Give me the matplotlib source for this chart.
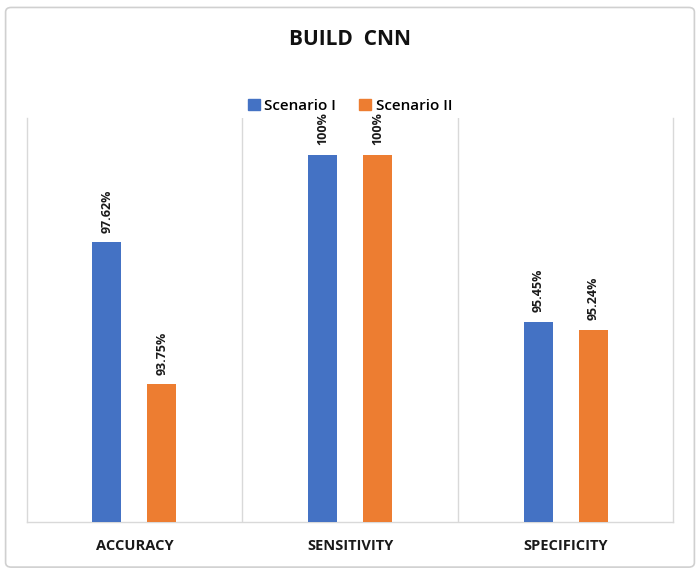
import matplotlib.pyplot as plt
from matplotlib.patches import FancyBboxPatch, Patch
import numpy as np

plt.rcParams['font.family'] = ['Open Sans', 'DejaVu Sans']

# Data
categories = ['ACCURACY', 'SENSITIVITY', 'SPECIFICITY']
scenario_1 = [97.62, 100, 95.45]
scenario_2 = [93.75, 100, 95.24]
labels_1 = ['97.62%', '100%', '95.45%']
labels_2 = ['93.75%', '100%', '95.24%']

blue = '#4472C4'
orange = '#ED7D31'
grid_col = '#D9D9D9'

fig = plt.figure(figsize=(7, 5.74), dpi=100)

# outer chart frame
frame = FancyBboxPatch((0.008, 0.012), 0.984, 0.975, boxstyle='round,pad=0,rounding_size=0.008',
                       transform=fig.transFigure, facecolor='white', edgecolor='#D0D0D0',
                       linewidth=1.2, zorder=-5)
fig.patches.append(frame)

ax = fig.add_axes([0.038, 0.0906, 0.924, 0.703])
ax.set_facecolor('none')
ax.set_zorder(2)

x = np.arange(len(categories))
w = 0.135
off = 0.1275
b1 = ax.bar(x - off, scenario_1, w, color=blue, label='Scenario I', zorder=3)
b2 = ax.bar(x + off, scenario_2, w, color=orange, label='Scenario II', zorder=3)

for bars, labs in [(b1, labels_1), (b2, labels_2)]:
    for bar, lab in zip(bars, labs):
        ax.annotate(lab, (bar.get_x() + bar.get_width() / 2, bar.get_height()),
                    xytext=(0, 7), textcoords='offset points', rotation=90,
                    ha='center', va='bottom', fontsize=9, fontweight='bold', color='#1a1a1a')

ax.set_ylim(90, 101)
ax.set_xlim(-0.5, 2.5)
ax.set_yticks([])
ax.set_xticks(x)
ax.set_xticklabels(categories, fontsize=10.5, fontweight='bold', color='#1a1a1a')
ax.tick_params(axis='x', length=0, pad=12)

for b in [0.5, 1.5]:
    ax.axvline(b, color=grid_col, linewidth=1, zorder=1)
for s in ['left', 'right', 'bottom']:
    ax.spines[s].set_color(grid_col)
    ax.spines[s].set_linewidth(1)
ax.spines['top'].set_visible(False)

fig.text(0.5, 0.932, 'BUILD  CNN', ha='center', va='center', fontsize=15,
         fontweight='bold', color='#111111')

handles = [Patch(color=blue, label='Scenario I'), Patch(color=orange, label='Scenario II')]
fig.legend(handles=handles, loc='center', bbox_to_anchor=(0.5, 0.816), ncol=2, frameon=False,
           prop={'size': 11, 'weight': 'semibold'}, handlelength=0.8, handleheight=0.8,
           handletextpad=0.3, columnspacing=1.5)

fig.savefig('out.png', dpi=100)
